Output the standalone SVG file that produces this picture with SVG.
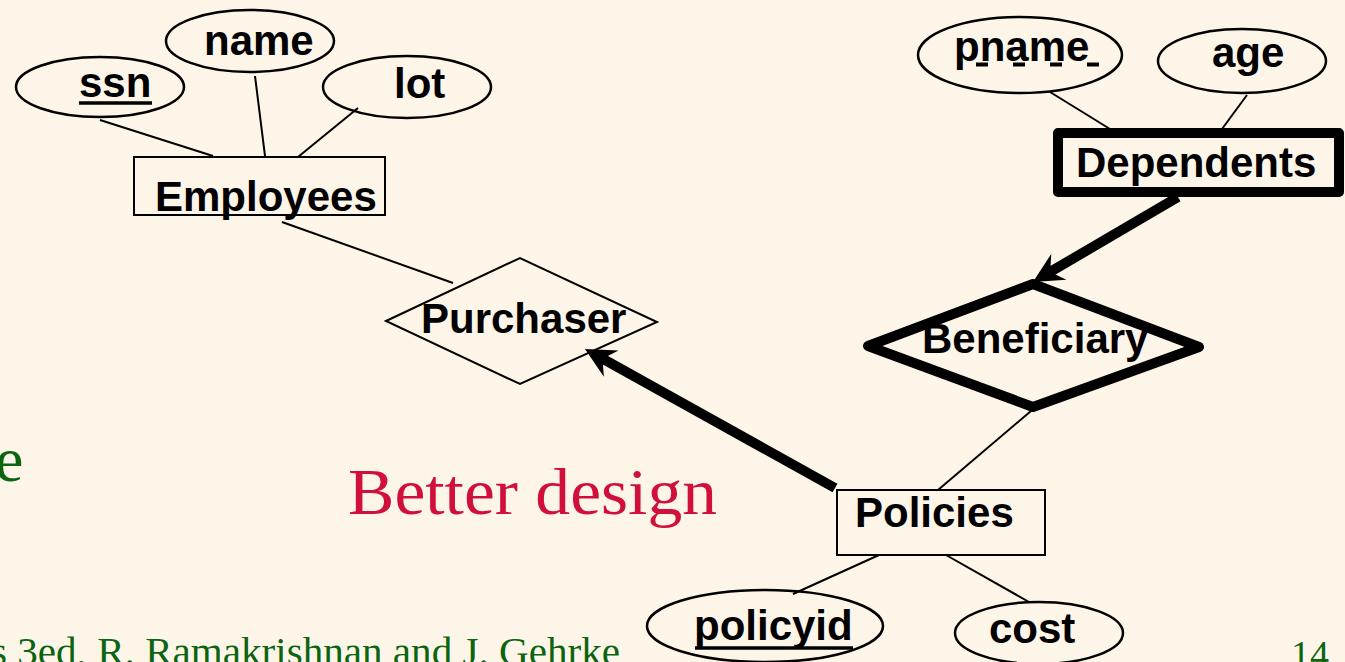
<svg xmlns="http://www.w3.org/2000/svg" width="1345" height="662" viewBox="0 0 1345 662">
<defs>
<style>
.attr{fill:none;stroke:#000;stroke-width:2.5}
.box{fill:none;stroke:#000;stroke-width:2}
.weakbox{fill:none;stroke:#000;stroke-width:10;stroke-linejoin:round}
.lbl{font-family:"Liberation Sans",Arial,sans-serif;font-weight:bold;font-size:42px;fill:#000}
.thin{stroke:#000;stroke-width:2;fill:none}
.thick{stroke:#000;stroke-width:10;fill:none}
.green{font-family:"Liberation Serif","Times New Roman",serif;fill:#0B640F}
.red{font-family:"Liberation Serif","Times New Roman",serif;fill:#D0103A}
</style>
<marker id="arr" markerUnits="userSpaceOnUse" markerWidth="31" markerHeight="32" viewBox="0 0 31 32" refX="12" refY="16" orient="auto">
<path d="M30 16 L0 1 L10 16 L0 31 Z" fill="#000"/>
</marker>
</defs>
<rect x="0" y="0" width="1345" height="662" fill="#FEF5E9"/>

<g id="connectors">
<line class="thin" x1="100" y1="120" x2="213" y2="156"/>
<line class="thin" x1="255" y1="76" x2="265" y2="156"/>
<line class="thin" x1="358" y1="108" x2="298" y2="157"/>
<line class="thin" x1="282" y1="222" x2="453" y2="283"/>
<line class="thin" x1="1050" y1="92" x2="1110" y2="129"/>
<line class="thin" x1="1247" y1="95" x2="1222" y2="129"/>
<line class="thin" x1="1031" y1="411" x2="938" y2="490"/>
<line class="thin" x1="879" y1="555" x2="793" y2="594"/>
<line class="thin" x1="946" y1="555" x2="1029" y2="602"/>
<line class="thick" x1="835" y1="488" x2="600.7" y2="357.7" marker-end="url(#arr)"/>
<line class="thick" x1="1178" y1="197" x2="1048.5" y2="272.9" marker-end="url(#arr)"/>
</g>

<g id="ssn">
<ellipse class="attr" cx="100" cy="87" rx="84" ry="30"/>
<text class="lbl" x="79" y="97">ssn</text>
<line x1="79" y1="103" x2="152" y2="103" stroke="#000" stroke-width="3.5"/>
</g>
<g id="name">
<ellipse class="attr" cx="250" cy="41" rx="84" ry="31"/>
<text class="lbl" x="204" y="55">name</text>
</g>
<g id="lot">
<ellipse class="attr" cx="407" cy="87" rx="84" ry="31"/>
<text class="lbl" x="394" y="98">lot</text>
</g>
<g id="employees">
<rect class="box" x="134" y="157" width="251" height="58"/>
<text class="lbl" x="155" y="211">Employees</text>
</g>
<g id="purchaser">
<polygon class="box" points="386,321 520,258 657,322 520,384"/>
<text class="lbl" x="421" y="333">Purchaser</text>
</g>
<g id="pname">
<ellipse class="attr" cx="1020" cy="55" rx="102" ry="38"/>
<text class="lbl" x="954" y="61">pname</text>
<line x1="976" y1="64.5" x2="1099" y2="64.5" stroke="#000" stroke-width="4" stroke-dasharray="12 25"/>
</g>
<g id="age">
<ellipse class="attr" cx="1242" cy="61" rx="84" ry="32"/>
<text class="lbl" x="1212" y="67">age</text>
</g>
<g id="dependents">
<rect class="weakbox" x="1058" y="133" width="281" height="59"/>
<text class="lbl" x="1076" y="177">Dependents</text>
</g>
<g id="beneficiary">
<polygon class="weakbox" points="868,346 1033,284 1199,347 1033,407"/>
<text class="lbl" x="922" y="353">Beneficiary</text>
</g>
<g id="policies">
<rect class="box" x="837" y="490" width="208" height="65"/>
<text class="lbl" x="855" y="527">Policies</text>
</g>
<g id="policyid">
<ellipse class="attr" cx="765" cy="626" rx="118" ry="36"/>
<text class="lbl" x="694" y="640">policyid</text>
<line x1="695" y1="648" x2="853" y2="648" stroke="#000" stroke-width="3.5"/>
</g>
<g id="cost">
<ellipse class="attr" cx="1039" cy="633" rx="84" ry="31"/>
<text class="lbl" x="989" y="643">cost</text>
</g>

<text class="green" x="-5" y="481" font-size="64">e</text>
<text class="red" x="348" y="514" font-size="66" textLength="369" lengthAdjust="spacingAndGlyphs">Better design</text>
<text class="green" x="-9" y="665" font-size="40" textLength="629" lengthAdjust="spacingAndGlyphs">s 3ed,  R. Ramakrishnan and J. Gehrke</text>
<text class="green" x="1291" y="667" font-size="38">14</text>
</svg>
